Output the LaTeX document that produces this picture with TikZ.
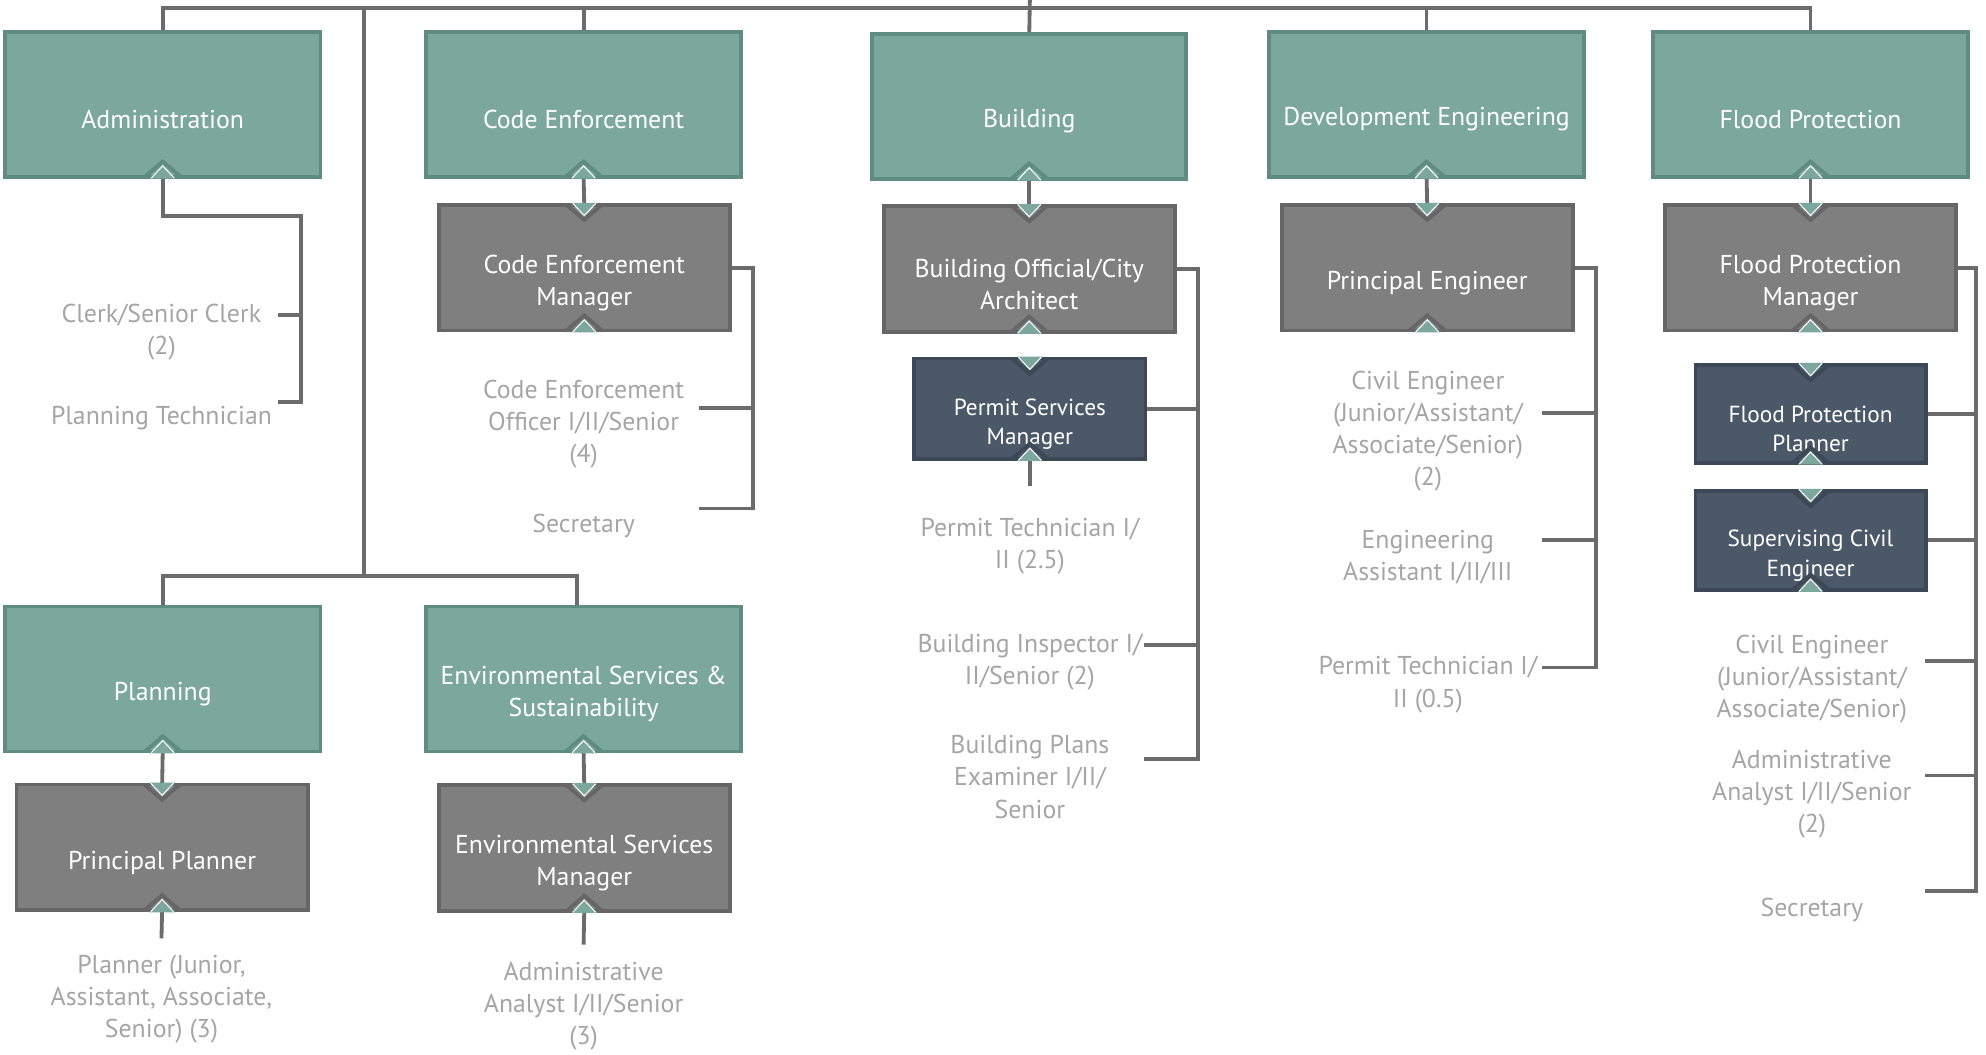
\documentclass[tikz,border=0pt]{standalone}
\usepackage{fontspec}
\setmainfont{PT Sans}
\usetikzlibrary{backgrounds}
\definecolor{tealF}{HTML}{7BA79D}
\definecolor{tealB}{HTML}{5E8C81}
\definecolor{grayF}{HTML}{7F7F7F}
\definecolor{grayB}{HTML}{666666}
\definecolor{darkF}{HTML}{4A5868}
\definecolor{darkB}{HTML}{3C4855}
\definecolor{lineC}{HTML}{6B6B6B}
\definecolor{txtC}{HTML}{A5A5A5}
\tikzset{
  box/.style={draw, line width=3pt, outer sep=0pt, inner sep=0pt},
  tbox/.style={box, fill=tealF, draw=tealB, minimum width=248pt, minimum height=114pt},
  gbox/.style={box, fill=grayF, draw=grayB, minimum width=229pt, minimum height=99pt},
  dbox/.style={box, fill=darkF, draw=darkB, minimum width=181pt, minimum height=78pt},
  btxt/.style={text=white, align=center, font=\fontsize{20.3}{25}\selectfont},
  dtxt/.style={text=white, align=center, font=\fontsize{18.3}{23}\selectfont},
  role/.style={text=txtC, align=center, font=\fontsize{20.3}{25.3}\selectfont},
  conn/.style={draw=lineC, line width=3pt}
}
\newcommand\nup[2]{%
  \fill[tealF] ([xshift=-10pt,yshift=-1.5pt]#1) -- ([yshift=9pt]#1) -- ([xshift=10pt,yshift=-1.5pt]#1) -- cycle;
  \draw[#2, line width=3pt, line join=miter] ([xshift=-14pt]#1) -- ([yshift=12pt]#1) -- ([xshift=14pt]#1);
  \draw[white, line width=0.8pt] ([xshift=-9pt,yshift=-1pt]#1) -- ([yshift=8.5pt]#1) -- ([xshift=9pt,yshift=-1pt]#1);
}
\newcommand\ndown[2]{%
  \fill[tealF] ([xshift=-10pt,yshift=1.5pt]#1) -- ([yshift=-9pt]#1) -- ([xshift=10pt,yshift=1.5pt]#1) -- cycle;
  \draw[#2, line width=3pt, line join=miter] ([xshift=-14pt]#1) -- ([yshift=-12pt]#1) -- ([xshift=14pt]#1);
  \draw[white, line width=0.8pt] ([xshift=-9pt,yshift=1pt]#1) -- ([yshift=-8.5pt]#1) -- ([xshift=9pt,yshift=1pt]#1);
}
\begin{document}
\begin{tikzpicture}[x=1pt,y=-1pt]
\useasboundingbox (0,0) rectangle (1562,829);
% top-level boxes
\node[tbox] (adm) at (128,82) {};
\node[tbox] (ce) at (459,82) {};
\node[tbox, minimum width=247pt] (bld) at (809.5,83.5) {};
\node[tbox] (dev) at (1122,82) {};
\node[tbox] (fp) at (1424,82) {};
\node[tbox] (pln) at (128,534) {};
\node[tbox] (env) at (459,534) {};
% managers
\node[gbox] (cem) at (459.5,210.5) {};
\node[gbox] (bo) at (809.5,211.5) {};
\node[gbox] (pe) at (1122.5,210.5) {};
\node[gbox] (fpm) at (1424,210.5) {};
\node[gbox] (pp) at (127.5,666.5) {};
\node[gbox] (esm) at (459.5,667) {};
% dark boxes
\node[dbox, minimum width=182pt, minimum height=79pt] (psm) at (810,321.5) {};
\node[dbox, minimum height=77pt] (fpp) at (1424,325.5) {};
\node[dbox] (sce) at (1424,425) {};
% box texts
\node[btxt] (admT) at ([yshift=-12pt]adm.center) {Administration};
\node[btxt] (ceT) at ([yshift=-12pt]ce.center) {Code Enforcement};
\node[btxt] (bldT) at ([yshift=-12pt]bld.center) {Building};
\node[btxt] (devT) at ([yshift=-12pt]dev.center) {Development Engineering};
\node[btxt] (fpT) at ([yshift=-12pt]fp.center) {Flood Protection};
\node[btxt] (plnT) at ([yshift=-12pt]pln.center) {Planning};
\node[btxt] (envT) at ([yshift=-12pt]env.center) {Environmental Services \&\\Sustainability};
\node[btxt] (cemT) at ([yshift=-12pt]cem.center) {Code Enforcement\\Manager};
\node[btxt] (boT) at ([yshift=-12pt]bo.center) {Building Official/City\\Architect};
\node[btxt] (peT) at ([yshift=-12pt]pe.center) {Principal Engineer};
\node[btxt] (fpmT) at ([yshift=-12pt]fpm.center) {Flood Protection\\Manager};
\node[btxt] (ppT) at ([yshift=-12pt]pp.center) {Principal Planner};
\node[btxt] (esmT) at ([yshift=-12pt]esm.center) {Environmental Services\\Manager};
\node[dtxt] (psmT) at ([yshift=-12pt]psm.center) {Permit Services\\Manager};
\node[dtxt] (fppT) at ([yshift=-12pt]fpp.center) {Flood Protection\\Planner};
\node[dtxt] (sceT) at ([yshift=-12pt]sce.center) {Supervising Civil\\Engineer};
% role texts
\node[role] (clk) at (127,261.5) {Clerk/Senior Clerk\\(2)};
\node[role] (ptec) at (127,329) {Planning Technician};
\node[role] (ceo) at (459,333.5) {Code Enforcement\\Officer I/II/Senior\\(4)};
\node[role] (cesec) at (459,414) {Secretary};
\node[role] (ptc1) at (810,429.5) {Permit Technician I/\\II (2.5)};
\node[role] (bins) at (810,520.5) {Building Inspector I/\\II/Senior (2)};
\node[role] (bpe) at (810,611) {Building Plans\\Examiner I/II/\\Senior};
\node[role] (civ) at (1123,339) {Civil Engineer\\(Junior/Assistant/\\Associate/Senior)\\(2)};
\node[role] (enga) at (1123,438.5) {Engineering\\Assistant I/II/III};
\node[role] (ptc2) at (1123,538.5) {Permit Technician I/\\II (0.5)};
\node[role] (civ2) at (1425,534) {Civil Engineer\\(Junior/Assistant/\\Associate/Senior)};
\node[role] (aa2) at (1425,624.5) {Administrative\\Analyst I/II/Senior\\(2)};
\node[role] (fsec) at (1425,716) {Secretary};
\node[role] (plnr) at (127,786) {Planner (Junior,\\Assistant, Associate,\\Senior) (3)};
\node[role] (aa3) at (459,791.5) {Administrative\\Analyst I/II/Senior\\(3)};
% notches
\nup{adm.south}{tealB}\nup{ce.south}{tealB}\nup{bld.south}{tealB}
\nup{dev.south}{tealB}\nup{fp.south}{tealB}\nup{pln.south}{tealB}\nup{env.south}{tealB}
\nup{cem.south}{grayB}\nup{bo.south}{grayB}\nup{pe.south}{grayB}
\nup{fpm.south}{grayB}\nup{pp.south}{grayB}\nup{esm.south}{grayB}
\nup{psm.south}{darkB}\nup{fpp.south}{darkB}\nup{sce.south}{darkB}
\ndown{cem.north}{grayB}\ndown{bo.north}{grayB}\ndown{pe.north}{grayB}
\ndown{fpm.north}{grayB}\ndown{pp.north}{grayB}\ndown{esm.north}{grayB}
\ndown{psm.north}{darkB}\ndown{fpp.north}{darkB}\ndown{sce.north}{darkB}
% connector coordinates
\coordinate (top) at (810,0);
\coordinate (bus) at (810,6);
\coordinate (vtop) at (286,6);
\coordinate (vbot) at (286,453);
\coordinate (envs) at (454,453);
\coordinate (admB1) at (237,170);
\coordinate (admB2) at (237,316);
\coordinate (clkE) at (219,248);
\coordinate (ptecE) at (219,316);
\coordinate (ceB) at (592,400);
\coordinate (ceoE) at (550,321);
\coordinate (cesecE) at (550,400);
\coordinate (bB) at (942,597);
\coordinate (binsE) at (900,507);
\coordinate (bpeE) at (900,597);
\coordinate (psmS) at (810,382);
\coordinate (dB) at (1255,525);
\coordinate (civE) at (1213,325);
\coordinate (engaE) at (1213,425);
\coordinate (ptc2E) at (1213,525);
\coordinate (fB) at (1554,701);
\coordinate (civ2E) at (1514,520);
\coordinate (aa2E) at (1514,610);
\coordinate (fsecE) at (1514,701);
\coordinate (ppS) at (127,738);
\coordinate (esmS) at (459,743);
\begin{scope}[on background layer]
\draw[conn] (top) -- (bld.north);
\draw[conn] (adm.north) |- (bus) -| (fp.north);
\draw[conn] (ce.north) -- (ce.north |- bus);
\draw[conn] (dev.north) -- (dev.north |- bus);
\draw[conn] (vtop) -- (vbot);
\draw[conn] (pln.north) |- (envs) -- (envs |- env.north);
% administration
\draw[conn] (adm.south) |- (admB1) -- (admB2) -- (ptecE);
\draw[conn] (clkE) -- (clkE -| admB1);
% code enforcement
\draw[conn] (ce.south) -- (cem.north);
\draw[conn] (cem.east) -| (ceB) -- (cesecE);
\draw[conn] (ceoE) -- (ceoE -| ceB);
% building
\draw[conn] (bld.south) -- (bo.north);
\draw[conn] (psm.south) -- (psmS);
\draw[conn] (bo.east) -| (bB) -- (bpeE);
\draw[conn] (psm.east) -- (psm.east -| bB);
\draw[conn] (binsE) -- (binsE -| bB);
% development engineering
\draw[conn] (dev.south) -- (pe.north);
\draw[conn] (pe.east) -| (dB) -- (ptc2E);
\draw[conn] (civE) -- (civE -| dB);
\draw[conn] (engaE) -- (engaE -| dB);
% flood protection
\draw[conn] (fp.south) -- (fpm.north);
\draw[conn] (fpm.east) -| (fB) -- (fsecE);
\draw[conn] (fpp.east) -- (fpp.east -| fB);
\draw[conn] (sce.east) -- (sce.east -| fB);
\draw[conn] (civ2E) -- (civ2E -| fB);
\draw[conn] (aa2E) -- (aa2E -| fB);
% planning, environmental
\draw[conn] (pln.south) -- (pp.north);
\draw[conn] (pp.south) -- (ppS);
\draw[conn] (env.south) -- (esm.north);
\draw[conn] (esm.south) -- (esmS);
\end{scope}
\end{tikzpicture}
\end{document}
